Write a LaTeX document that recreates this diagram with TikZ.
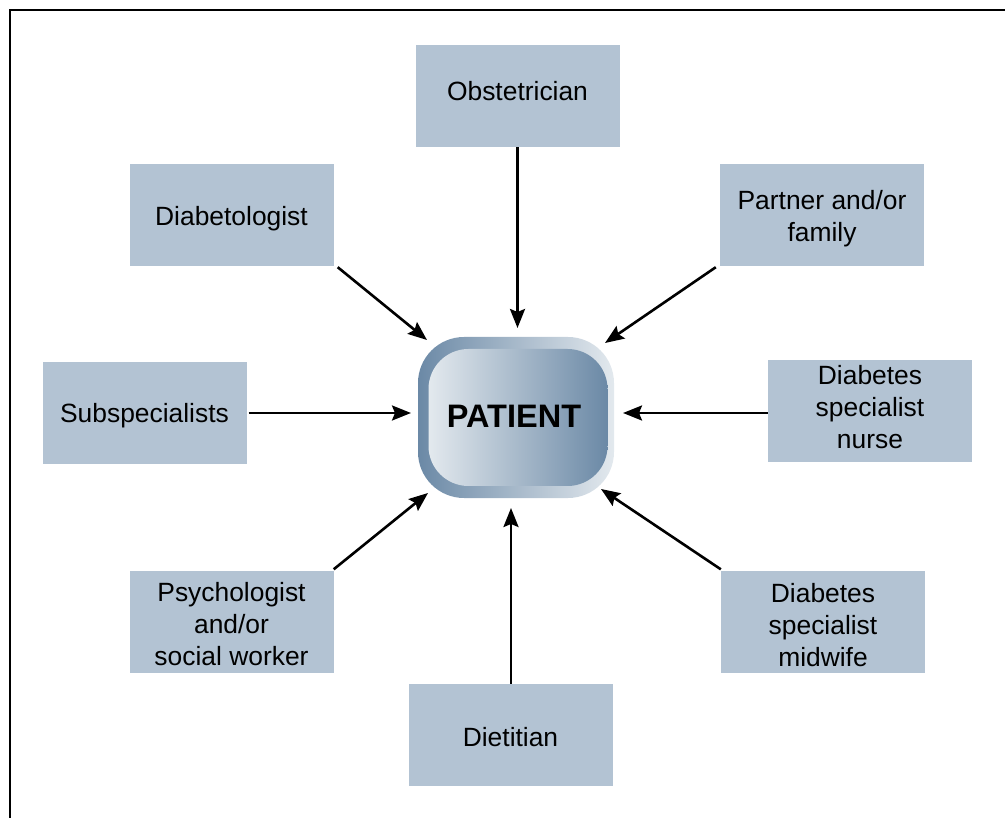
\documentclass[tikz,border=0pt]{standalone}
\usepackage{fontspec}
\setmainfont{Liberation Sans}
\usetikzlibrary{arrows.meta}
\definecolor{boxblue}{HTML}{B3C3D3}
\definecolor{darkblue}{HTML}{6B89A6}
\definecolor{lightblue}{HTML}{E3E9EE}
\tikzset{
  rolebox/.style={fill=boxblue, draw=none, minimum width=204pt, minimum height=102pt, inner sep=0pt},
  roletext/.style={align=center, inner sep=0pt, font=\fontsize{26.4}{32}\selectfont},
  link/.style={line width=2.6pt, -{Stealth[length=19pt, width=15pt, inset=3pt]}},
  frame/.style={line width=2pt, black}
}
\begin{document}
\begin{tikzpicture}[x=1pt, y=-1pt]
\useasboundingbox (0,0) rectangle (1005,818);
\coordinate (fa) at (10,10);
\coordinate (fb) at (1005,10);
\coordinate (fc) at (10,818);
\draw[frame] (fc) -- (fa) -- (fb);

\node[rolebox] (obst) at (517.5,96) {};
\node[rolebox] (dia) at (231.5,215) {};
\node[rolebox] (part) at (822,215) {};
\node[rolebox] (sub) at (144.5,413) {};
\node[rolebox] (nurse) at (870,411) {};
\node[rolebox] (psy) at (231.5,621.5) {};
\node[rolebox] (mid) at (823,621.5) {};
\node[rolebox] (diet) at (510.5,735) {};

\node[roletext] (obstT) at ([yshift=5pt]obst.center) {Obstetrician};
\node[roletext] (diaT) at ([yshift=-4pt]dia.center) {Diabetologist};
\node[roletext] (partT) at ([yshift=-4pt]part.center) {Partner and/or\\family};
\node[roletext] (subT) at ([yshift=-3pt]sub.center) {Subspecialists};
\node[roletext] (nurseT) at ([yshift=4pt]nurse.center) {Diabetes\\specialist\\nurse};
\node[roletext] (psyT) at ([yshift=-3pt]psy.center) {Psychologist\\and/or\\social worker};
\node[roletext] (midT) at ([yshift=-4pt]mid.center) {Diabetes\\specialist\\midwife};
\node[roletext] (dietT) at ([yshift=-2pt]diet.center) {Dietitian};

\node[draw=none, rounded corners=46pt, left color=darkblue, right color=lightblue,
  minimum width=196pt, minimum height=161pt] (pat) at (516,417.5) {};
\node[draw=none, rounded corners=40pt, left color=lightblue, right color=darkblue,
  minimum width=179pt, minimum height=137pt] (inner) at (518,417.5) {};
\node[font=\fontsize{32.5}{38}\selectfont\bfseries, inner sep=0pt] (patT) at (514,416) {PATIENT};

\coordinate (t1) at (517.5,328);
\coordinate (t2) at (427,340);
\coordinate (t3) at (605,343);
\coordinate (t4) at (411,413);
\coordinate (t5) at (623,413);
\coordinate (t6) at (428,493);
\coordinate (t7) at (601,489);
\coordinate (t8) at (511,508);

\draw[link] (obst.south) -- (t1);
\draw[link] ([shift={(4,1)}]dia.south east) -- (t2);
\draw[link] ([shift={(-4,1)}]part.south west) -- (t3);
\draw[link] ([shift={(2,0)}]sub.east) -- (t4);
\draw[link] ([shift={(0,2)}]nurse.west) -- (t5);
\draw[link] ([shift={(0,-1)}]psy.north east) -- (t6);
\draw[link] ([shift={(0,-1)}]mid.north west) -- (t7);
\draw[link] ([shift={(0.5,0)}]diet.north) -- (t8);
\end{tikzpicture}
\end{document}
